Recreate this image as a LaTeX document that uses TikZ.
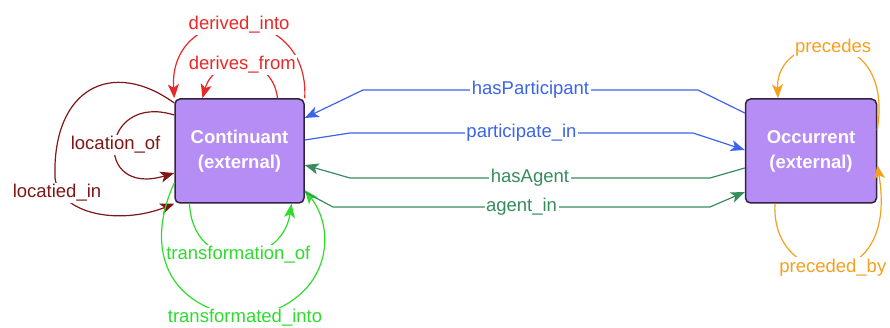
\documentclass[tikz,border=0pt]{standalone}
\usepackage{fontspec}
\setmainfont{Liberation Sans}
\usetikzlibrary{arrows.meta}
\definecolor{redc}{RGB}{232,40,40}
\definecolor{darkredc}{RGB}{128,22,22}
\definecolor{greenc}{RGB}{45,220,45}
\definecolor{bluec}{RGB}{60,100,232}
\definecolor{dgreenc}{RGB}{55,140,92}
\definecolor{orangec}{RGB}{245,160,30}
\definecolor{boxfill}{RGB}{182,140,245}
\definecolor{boxline}{RGB}{50,35,60}
\begin{document}
\begin{tikzpicture}[x=1pt,y=-1pt,
  classbox/.style={draw=boxline,line width=1.5pt,fill=boxfill,rounded corners=5pt,
    inner sep=0pt,text=white,align=center,font=\fontsize{18.5}{25}\selectfont\bfseries},
  lbl/.style={fill=white,inner sep=1.5pt,font=\fontsize{18.5}{22}\selectfont},
  edge/.style={line width=1.2pt,-{Stealth[length=14pt,width=11pt,inset=3.5pt]}},
  plain/.style={line width=1.2pt}]
\useasboundingbox (0,0) rectangle (890,328);
\node[classbox,minimum width=129pt,minimum height=104pt] (C) at (239.5,151) {Continuant\\(external)};
\node[classbox,minimum width=131pt,minimum height=104pt] (O) at (811,151) {Occurrent\\(external)};

% red loops
\draw[edge,redc] (C.north east) .. controls (310,0) and (168,0) .. (C.north west)
  node[pos=0.5,lbl,text=redc] (dinto) {derived\_into};
\draw[edge,redc] ([xshift=38pt]C.north) .. controls (272,52) and (214,56) .. ([xshift=-37pt]C.north)
  node[pos=0.5,lbl,text=redc] (dfrom) {derives\_from};

% dark red loops
\draw[edge,darkredc] ([yshift=36pt]C.west) .. controls (100,92) and (92,198) .. ([yshift=-22pt]C.west)
  node[pos=0.5,lbl,text=darkredc] (locof) {location\_of};
\draw[edge,darkredc] ([yshift=48pt]C.west) .. controls (112,58) and (52,88) .. (55,178)
  .. controls (60,215) and (120,225) .. (C.south west);
\node[lbl,text=darkredc] (locin) at (57,193) {locatied\_in};

% green loops
\draw[edge,greenc] ([xshift=-50pt]C.south) .. controls (193,275) and (282,268) .. ([xshift=52pt]C.south)
  node[pos=0.5,lbl,text=greenc] (trof) {transformation\_of};
\draw[edge,greenc] ([yshift=-32pt]C.west) .. controls (148,240) and (158,305) .. (245,318)
  .. controls (330,305) and (338,232) .. ([yshift=-39pt]C.east);
\node[lbl,text=greenc] (trin) at (245,318) {transformated\_into};

% blue
\draw[edge,bluec] ([yshift=38pt]O.west) -- (698,90) -- node[lbl,text=bluec] (hp) {hasParticipant} (363,90) -- ([yshift=33pt]C.east);
\draw[edge,bluec] ([yshift=11pt]C.east) -- (350,133) -- node[lbl,text=bluec] (pin) {participate\_in} (693,133) -- ([yshift=1pt]O.west);

% dark green
\draw[edge,dgreenc] ([yshift=-17pt]O.west) -- (710,178) -- node[lbl,text=dgreenc] (ha) {hasAgent} (350,178) -- ([yshift=-14pt]C.east);
\draw[edge,dgreenc] ([yshift=-41pt]C.east) -- (333,207) -- node[lbl,text=dgreenc] (ain) {agent\_in} (710,207) -- ([yshift=-41pt]O.west);

% orange
\draw[edge,orangec] ([yshift=21pt]O.east) .. controls (895,20) and (775,30) .. ([xshift=-33pt]O.north)
  node[pos=0.5,lbl,text=orangec] (prec) {precedes};
\draw[edge,orangec] ([xshift=-36pt]O.south) .. controls (770,290) and (900,300) .. ([yshift=-14pt]O.east)
  node[pos=0.5,lbl,text=orangec] (pby) {preceded\_by};
\end{tikzpicture}
\end{document}
